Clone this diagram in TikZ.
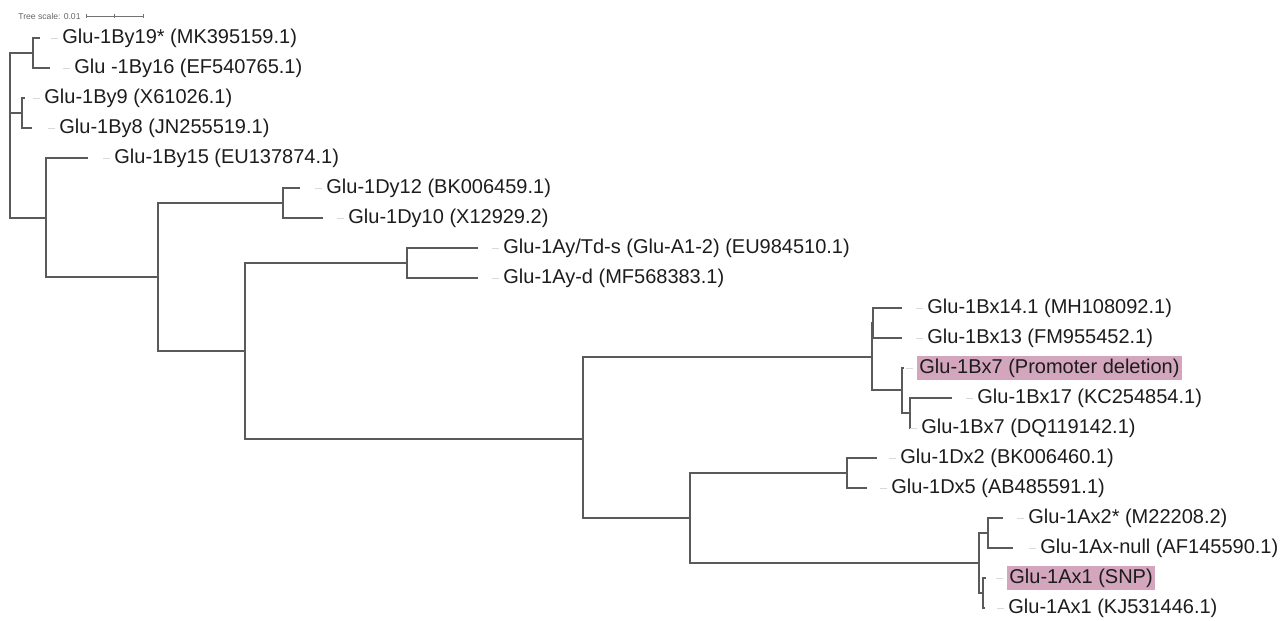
\documentclass[tikz,border=0pt]{standalone}
\usepackage{fontspec}
\setmainfont{Liberation Sans}
\begin{document}
\begin{tikzpicture}[x=0.5pt, y=-0.5pt,
  branch/.style={draw=branchgrey, line width=0.75pt},
  leaf/.style={anchor=west, inner sep=0pt, text height=0.75em, text depth=0.22em, font=\fontsize{10}{12}\selectfont, text=labeltext},
  hilite/.style={fill=pinkhl, inner xsep=1pt, inner ysep=1.3pt},
  lead/.style={draw=black!15, line width=0.5pt},
  scaletext/.style={anchor=west, inner sep=0pt, font=\fontsize{4.3}{5}\selectfont, text=black!60}]
\definecolor{branchgrey}{HTML}{5A5A5A}
\definecolor{labeltext}{HTML}{1C1C1C}
\definecolor{pinkhl}{HTML}{D4A6BE}
\useasboundingbox (0,0) rectangle (1282,621);
\node[scaletext] (scl) at (18,16) {Tree scale: 0.01};
\coordinate (sb1) at (86,16);
\coordinate (sb2) at (143,16);
\coordinate (sbm) at (114.5,16);
\draw[black!55, line width=0.4pt] (sb1) -- (sb2) ([yshift=-1pt]sb1) -- ([yshift=1pt]sb1) ([yshift=-1pt]sb2) -- ([yshift=1pt]sb2) ([yshift=-1pt]sbm) -- ([yshift=1pt]sbm);
\coordinate (root) at (10,113);
\coordinate (nBy1) at (33,53);
\coordinate (nBy2) at (22,113);
\coordinate (n46) at (46,218);
\coordinate (n158) at (158,277);
\coordinate (nDy) at (283,203);
\coordinate (n245) at (245,351);
\coordinate (nAy) at (407,263);
\coordinate (n583) at (583,439);
\coordinate (nB) at (872,357);
\coordinate (nB1) at (873,323);
\coordinate (nB2) at (902,390);
\coordinate (nB3) at (910,413);
\coordinate (n690) at (690,518);
\coordinate (nDx) at (847,473);
\coordinate (nA) at (979,563);
\coordinate (nA1) at (988,533);
\coordinate (nA2) at (983,593);
\coordinate (tBy19) at (40,38);
\coordinate (tBy16) at (50,68);
\coordinate (tBy9) at (25,98);
\coordinate (tBy8) at (32,128);
\coordinate (tBy15) at (88,158);
\coordinate (tDy12) at (300,188);
\coordinate (tDy10) at (323,218);
\coordinate (tAyT) at (478,248);
\coordinate (tAyd) at (478,278);
\coordinate (tBx14) at (902,308);
\coordinate (tBx13) at (902,338);
\coordinate (tBx7p) at (904,368);
\coordinate (tBx17) at (952,398);
\coordinate (tBx7d) at (911,428);
\coordinate (tDx2) at (877,458);
\coordinate (tDx5) at (867,488);
\coordinate (tAx2) at (1003,518);
\coordinate (tAxn) at (1013,548);
\coordinate (tAx1s) at (986,578);
\coordinate (tAx1k) at (985,608);
\draw[branch] (root) |- (nBy1) (root) |- (nBy2) (root) |- (n46);
\draw[branch] (nBy1) |- (tBy19) (nBy1) |- (tBy16);
\draw[branch] (nBy2) |- (tBy9) (nBy2) |- (tBy8);
\draw[branch] (n46) |- (tBy15) (n46) |- (n158);
\draw[branch] (n158) |- (nDy) (n158) |- (n245);
\draw[branch] (nDy) |- (tDy12) (nDy) |- (tDy10);
\draw[branch] (n245) |- (nAy) (n245) |- (n583);
\draw[branch] (nAy) |- (tAyT) (nAy) |- (tAyd);
\draw[branch] (n583) |- (nB) (n583) |- (n690);
\draw[branch] (nB) |- (nB1) (nB) |- (nB2);
\draw[branch] (nB1) |- (tBx14) (nB1) |- (tBx13);
\draw[branch] (nB2) |- (tBx7p) (nB2) |- (nB3);
\draw[branch] (nB3) |- (tBx17) (nB3) |- (tBx7d);
\draw[branch] (n690) |- (nDx) (n690) |- (nA);
\draw[branch] (nDx) |- (tDx2) (nDx) |- (tDx5);
\draw[branch] (nA) |- (nA1) (nA) |- (nA2);
\draw[branch] (nA1) |- (tAx2) (nA1) |- (tAxn);
\draw[branch] (nA2) |- (tAx1s) (nA2) |- (tAx1k);
\node[leaf] (lBy19) at (62,38) {Glu-1By19* (MK395159.1)};
\node[leaf] (lBy16) at (74,68) {Glu -1By16 (EF540765.1)};
\node[leaf] (lBy9) at (44,98) {Glu-1By9 (X61026.1)};
\node[leaf] (lBy8) at (59,128) {Glu-1By8 (JN255519.1)};
\node[leaf] (lBy15) at (114,158) {Glu-1By15 (EU137874.1)};
\node[leaf] (lDy12) at (326,188) {Glu-1Dy12 (BK006459.1)};
\node[leaf] (lDy10) at (348,218) {Glu-1Dy10 (X12929.2)};
\node[leaf] (lAyT) at (503,248) {Glu-1Ay/Td-s (Glu-A1-2) (EU984510.1)};
\node[leaf] (lAyd) at (503,278) {Glu-1Ay-d (MF568383.1)};
\node[leaf] (lBx14) at (927,308) {Glu-1Bx14.1 (MH108092.1)};
\node[leaf] (lBx13) at (927,338) {Glu-1Bx13 (FM955452.1)};
\node[leaf, hilite] (lBx7p) at (917,368) {Glu-1Bx7 (Promoter deletion)};
\node[leaf] (lBx17) at (977,398) {Glu-1Bx17 (KC254854.1)};
\node[leaf] (lBx7d) at (921,428) {Glu-1Bx7 (DQ119142.1)};
\node[leaf] (lDx2) at (900,458) {Glu-1Dx2 (BK006460.1)};
\node[leaf] (lDx5) at (891,488) {Glu-1Dx5 (AB485591.1)};
\node[leaf] (lAx2) at (1028,518) {Glu-1Ax2* (M22208.2)};
\node[leaf] (lAxn) at (1040,548) {Glu-1Ax-null (AF145590.1)};
\node[leaf, hilite] (lAx1s) at (1007,578) {Glu-1Ax1 (SNP)};
\node[leaf] (lAx1k) at (1008,608) {Glu-1Ax1 (KJ531446.1)};
\foreach \l in {lBy19,lBy16,lBy9,lBy8,lBy15,lDy12,lDy10,lAyT,lAyd,lBx14,lBx13,lBx7p,lBx17,lBx7d,lDx2,lDx5,lAx2,lAxn,lAx1s,lAx1k}
  \draw[lead] ([xshift=-5.5pt]\l.west) -- ([xshift=-2pt]\l.west);
\end{tikzpicture}
\end{document}
